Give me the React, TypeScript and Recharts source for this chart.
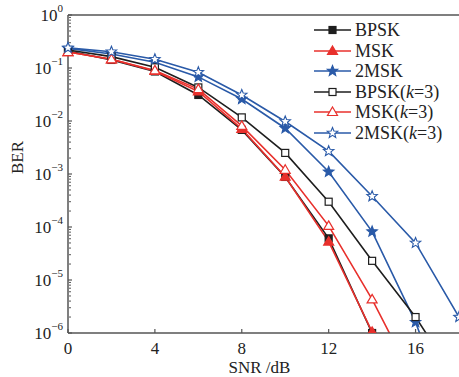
import React from 'react';
import {
    LineChart,
    Line,
    XAxis,
    YAxis,
    Legend,
    ReferenceLine
} from 'recharts';

// SNR points (dB)
const snr = [0, 2, 4, 6, 8, 10, 12, 14, 16, 18];

// BER values (null = not plotted)
const bpsk = [0.21, 0.142, 0.086, 0.031, 0.0068, 0.00088, 6.1e-5, 1.0e-6, 1e-8, null];
const msk = [0.2, 0.146, 0.088, 0.036, 0.0071, 0.00089, 5.3e-5, 1.05e-6, 1e-8, null];
const msk2 = [0.235, 0.184, 0.128, 0.068, 0.026, 0.0073, 0.0011, 8.2e-5, 1.6e-6, 1e-8];
const bpskK3 = [0.218, 0.164, 0.103, 0.043, 0.0117, 0.0025, 0.0003, 2.3e-5, 2e-6, 1.1e-7];
const mskK3 = [0.2, 0.146, 0.09, 0.04, 0.0081, 0.0012, 1.05e-4, 4.3e-6, 1.1e-7, null];
const msk2K3 = [0.24, 0.203, 0.146, 0.083, 0.031, 0.0098, 0.0027, 3.8e-4, 5e-5, 2e-6];

const xTicks = [0, 4, 8, 12, 16];
const yTicks = [1e-6, 1e-5, 1e-4, 1e-3, 1e-2, 1e-1, 1];

// minor log ticks 2..9 in every decade
const yMinorTicks: number[] = [];
for (let d = -6; d < 0; d++) {
    for (let k = 2; k <= 9; k++) yMinorTicks.push(k * Math.pow(10, d));
}

const BLACK = '#1e1e1e';
const RED = '#e8302c';
const BLUE = '#2a5aa8';
const AXIS = '#555';
const FONT = '"Liberation Serif", "DejaVu Serif", serif';

const data = snr.map((x, i) => ({
    snr: x,
    bpsk: bpsk[i],
    msk: msk[i],
    msk2: msk2[i],
    bpskK3: bpskK3[i],
    mskK3: mskK3[i],
    msk2K3: msk2K3[i],
}));

type Shape = 'square' | 'triangle' | 'star';

const Marker = ({ cx, cy, shape, color, open }: { cx: number; cy: number; shape: Shape; color: string; open: boolean }) => {
    const fill = open ? '#fff' : color;
    if (shape === 'square') {
        return <rect x={cx - 3.5} y={cy - 3.5} width={7} height={7} fill={fill} stroke={color} strokeWidth={1.2} />;
    }
    if (shape === 'triangle') {
        const pts = `${cx},${cy - 5} ${cx + 5},${cy + 3.5} ${cx - 5},${cy + 3.5}`;
        return <polygon points={pts} fill={fill} stroke={color} strokeWidth={1.2} />;
    }
    const pts: string[] = [];
    for (let i = 0; i < 10; i++) {
        const r = i % 2 === 0 ? 5.5 : 2.4;
        const a = -Math.PI / 2 + (i * Math.PI) / 5;
        pts.push(`${cx + r * Math.cos(a)},${cy + r * Math.sin(a)}`);
    }
    return <polygon points={pts.join(' ')} fill={fill} stroke={color} strokeWidth={1.1} />;
};

const seriesDefs: { key: string; name: React.ReactNode; color: string; shape: Shape; open: boolean }[] = [
    { key: 'bpsk', name: 'BPSK', color: BLACK, shape: 'square', open: false },
    { key: 'msk', name: 'MSK', color: RED, shape: 'triangle', open: false },
    { key: 'msk2', name: '2MSK', color: BLUE, shape: 'star', open: false },
    { key: 'bpskK3', name: <>BPSK(<i>k</i>=3)</>, color: BLACK, shape: 'square', open: true },
    { key: 'mskK3', name: <>MSK(<i>k</i>=3)</>, color: RED, shape: 'triangle', open: true },
    { key: 'msk2K3', name: <>2MSK(<i>k</i>=3)</>, color: BLUE, shape: 'star', open: true },
];

const YTick = (props: any) => {
    const { x, y, payload } = props;
    const exp = Math.round(Math.log10(payload.value));
    return (
        <text x={x} y={y} textAnchor="end" dominantBaseline="central" fontFamily={FONT} fontSize={17} fill="#222">
            <tspan>10</tspan>
            <tspan dy={-7} fontSize={11}>{exp === 0 ? '0' : '\u2212' + Math.abs(exp)}</tspan>
        </text>
    );
};

const LegendBox = () => (
    <div style={{ fontFamily: FONT, fontSize: 18, color: '#222', lineHeight: '20.5px' }}>
        {seriesDefs.map((s) => (
            <div key={s.key} style={{ display: 'flex', alignItems: 'center', height: 20.5, whiteSpace: 'nowrap' }}>
                <svg width={42} height={20} style={{ display: 'block' }}>
                    <line x1={1} y1={10} x2={38} y2={10} stroke={s.color} strokeWidth={1.6} />
                    <Marker cx={19.5} cy={10} shape={s.shape} color={s.color} open={s.open} />
                </svg>
                <span>{s.name}</span>
            </div>
        ))}
    </div>
);

export default function App() {
    return (
        <div style={{ position: 'absolute', left: 0, top: 0, width: 459, height: 377, background: '#fff' }}>
            <LineChart width={459} height={377} data={data} margin={{ top: 15, right: 0, left: 0, bottom: 0 }}>
                <XAxis
                    dataKey="snr"
                    type="number"
                    domain={[0, 18]}
                    ticks={xTicks}
                    tickLine={false}
                    tickSize={0}
                    tickMargin={9}
                    height={44}
                    axisLine={{ stroke: AXIS, strokeWidth: 1.5 }}
                    tick={{ fontFamily: FONT, fontSize: 17, fill: '#222' }}
                    label={{ value: 'SNR /dB', position: 'insideBottom', offset: 4, dx: -4, fontFamily: FONT, fontSize: 17, fill: '#222' }}
                />
                <XAxis
                    xAxisId="inner"
                    dataKey="snr"
                    type="number"
                    domain={[0, 18]}
                    ticks={xTicks}
                    mirror
                    height={1}
                    interval={0}
                    axisLine={false}
                    tickSize={4}
                    tickLine={{ stroke: AXIS, strokeWidth: 1.2 }}
                    tickFormatter={() => ''}
                />
                <YAxis
                    scale="log"
                    domain={[1e-6, 1]}
                    allowDataOverflow
                    ticks={yTicks}
                    width={68}
                    tickLine={false}
                    tickSize={0}
                    tickMargin={5}
                    axisLine={{ stroke: AXIS, strokeWidth: 1.5 }}
                    tick={<YTick />}
                    label={{ value: 'BER', angle: -90, position: 'insideLeft', offset: 17, fontFamily: FONT, fontSize: 17, fill: '#222' }}
                />
                <YAxis
                    yAxisId="major"
                    scale="log"
                    domain={[1e-6, 1]}
                    allowDataOverflow
                    ticks={yTicks}
                    mirror
                    width={1}
                    interval={0}
                    axisLine={false}
                    tickSize={4}
                    tickLine={{ stroke: AXIS, strokeWidth: 1.2 }}
                    tickFormatter={() => ''}
                />
                <YAxis
                    yAxisId="minor"
                    scale="log"
                    domain={[1e-6, 1]}
                    allowDataOverflow
                    ticks={yMinorTicks}
                    mirror
                    width={1}
                    interval={0}
                    axisLine={false}
                    tickSize={2}
                    tickLine={{ stroke: AXIS, strokeWidth: 1 }}
                    tickFormatter={() => ''}
                />
                <ReferenceLine y={1} stroke={AXIS} strokeWidth={1.5} />
                <Legend
                    layout="vertical"
                    align="center"
                    verticalAlign="middle"
                    content={<LegendBox />}
                    wrapperStyle={{ top: 20, left: 313, width: 150 }}
                />
                {seriesDefs.map((s) => (
                    <Line
                        key={s.key}
                        dataKey={s.key}
                        stroke={s.color}
                        strokeWidth={1.6}
                        isAnimationActive={false}
                        connectNulls={false}
                        dot={(p: any) =>
                            p.value == null || p.cx == null ? (
                                <g key={`${s.key}-${p.index}`} />
                            ) : (
                                <Marker key={`${s.key}-${p.index}`} cx={p.cx} cy={p.cy} shape={s.shape} color={s.color} open={s.open} />
                            )
                        }
                    />
                ))}
            </LineChart>
        </div>
    );
}
